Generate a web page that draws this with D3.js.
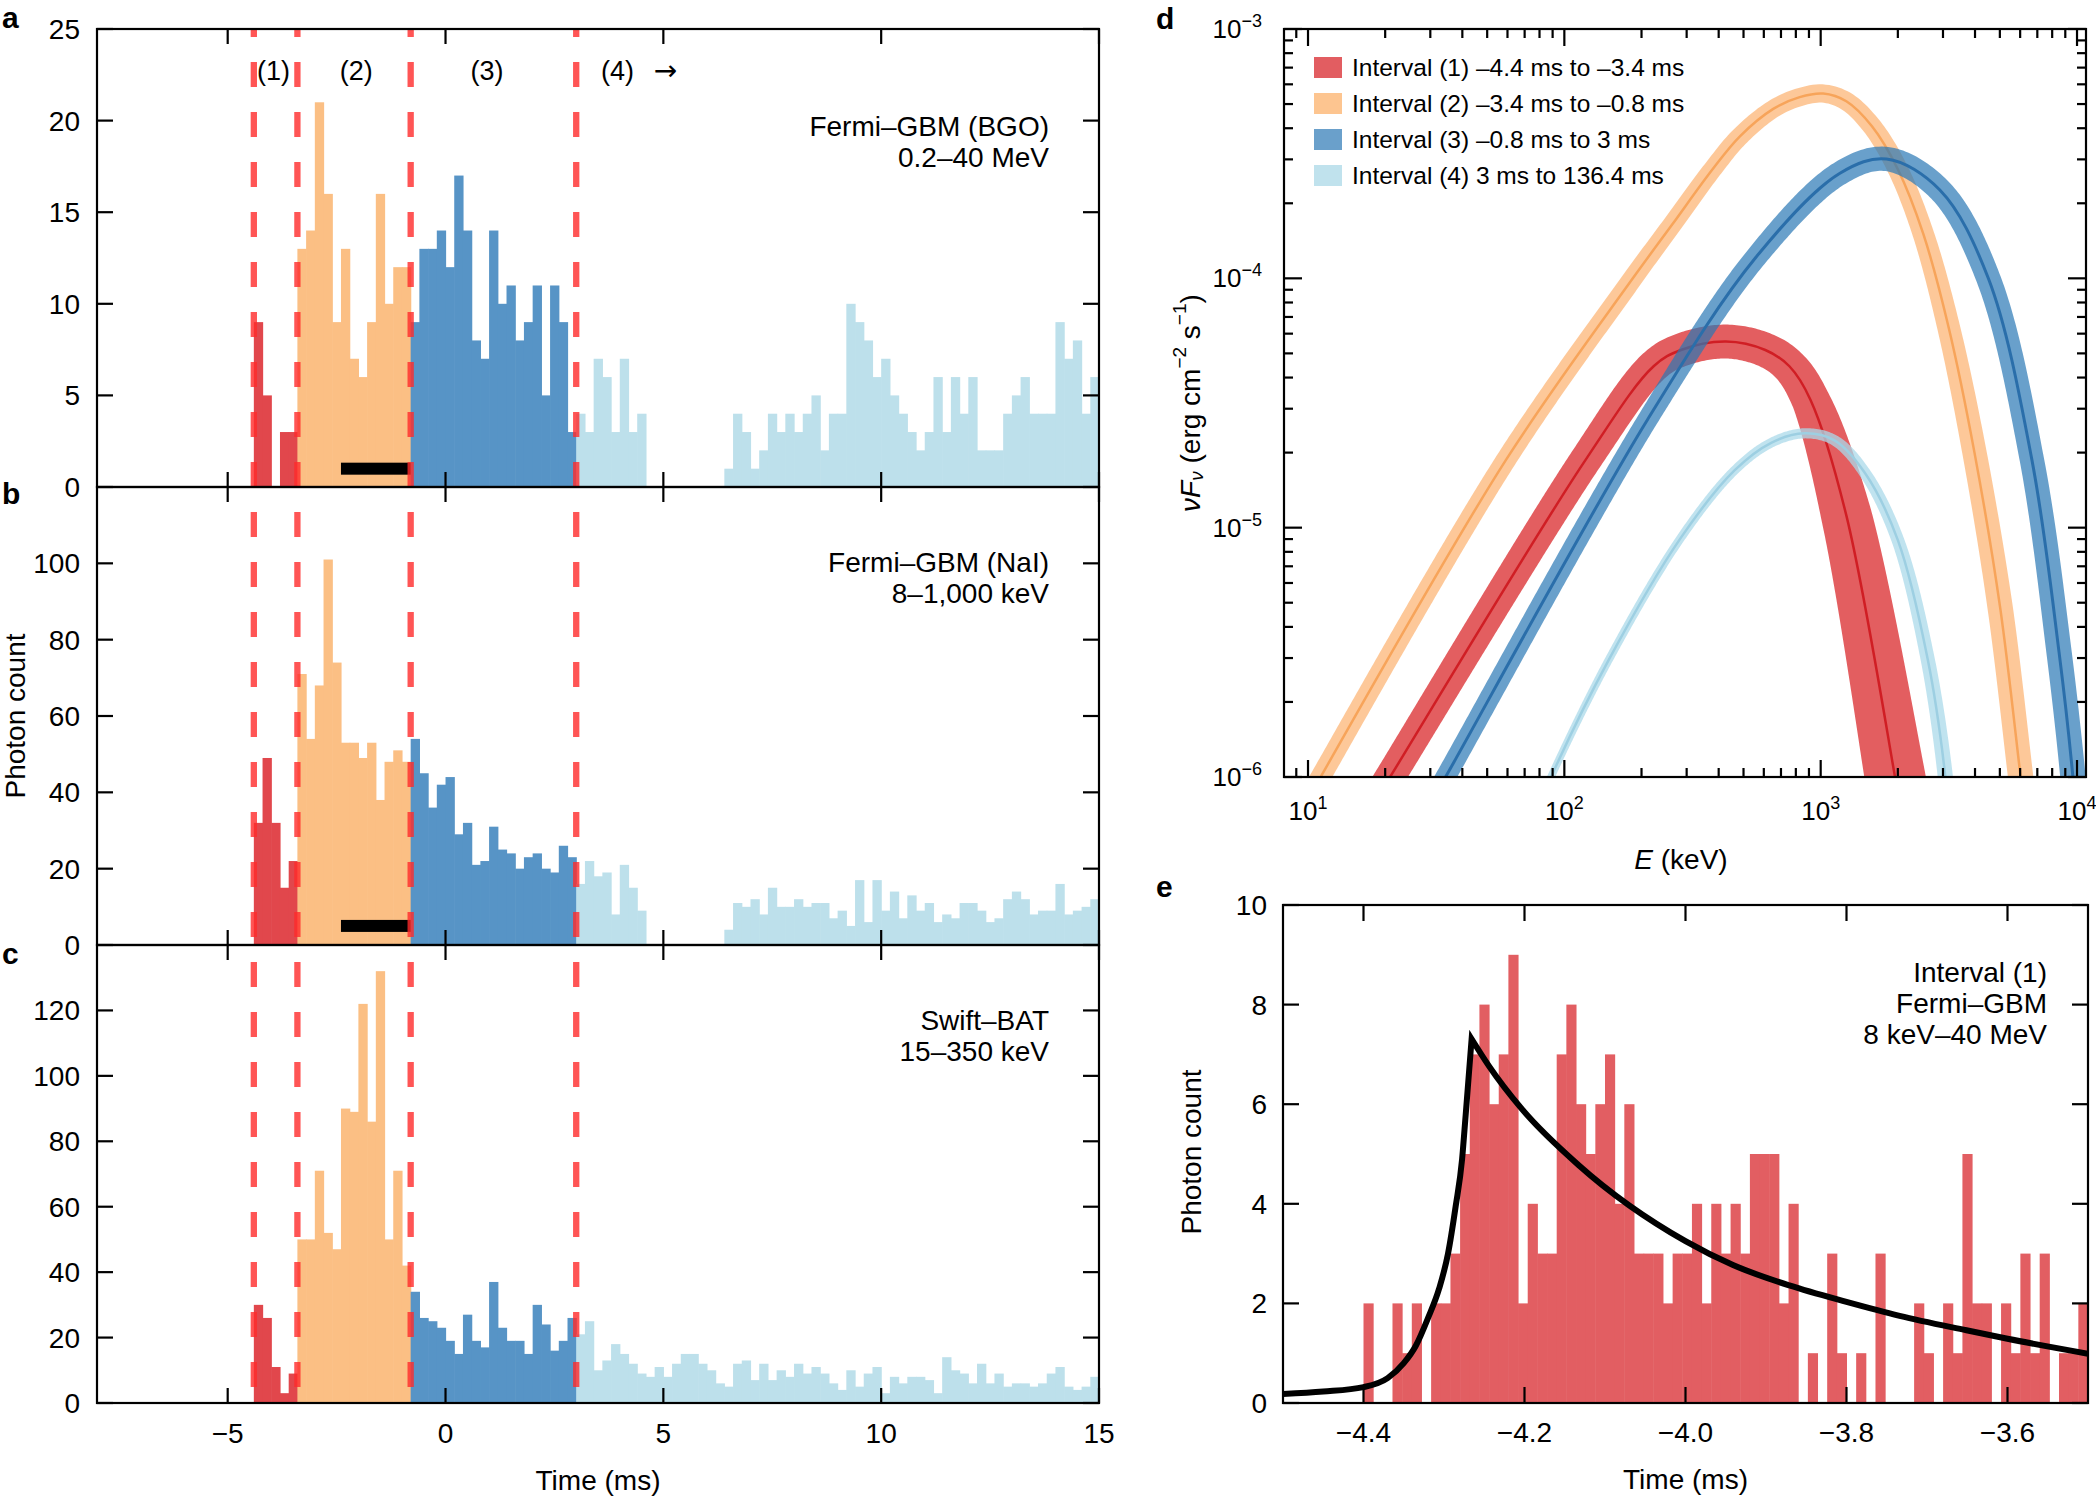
<!DOCTYPE html>
<html><head><meta charset="utf-8">
<script src="https://cdn.jsdelivr.net/npm/d3@7"></script>
<style>
body{margin:0;background:#fff}
svg{display:block}
text{font-family:"Liberation Sans",Arial,Helvetica,sans-serif;fill:#000}
</style>
</head><body>
<svg id="chart" width="2096" height="1496"></svg>
<script>
// ================= DATA =================
// Panels a-c: photon counts in 0.2 ms bins, split by interval
const intervalEdges = [-4.4, -3.4, -0.8, 3.0, 15.0];
const histBinMs = 0.2;
const bgoInt1 = [9,5,0,3,3];
const bgoInt2 = [13,14,21,16,9,13,7,6,9,16,10,12,12];
const bgoInt3 = [9,13,13,14,12,17,14,8,7,14,10,11,8,9,11,5,11,9,3];
const bgoInt4 = [4,3,7,6,3,7,3,4,0,0,0,0,0,0,0,0,0,1,4,3,1,2,4,3,4,3,4,5,2,4,4,10,9,8,6,7,5,4,3,2,3,6,3,6,4,6,2,2,2,4,5,6,4,4,4,9,7,8,4,6];
const naiInt1 = [32,49,32,15,22];
const naiInt2 = [71,54,68,101,74,53,53,49,53,38,48,51,48];
const naiInt3 = [54,45,36,42,44,29,32,21,22,31,25,24,20,23,24,20,19,26,23];
const naiInt4 = [16,22,18,19,8,21,15,9,0,0,0,0,0,0,0,0,0,4,11,10,12,8,15,10,10,12,10,11,11,7,9,5,17,6,17,9,14,7,13,9,11,6,8,7,11,11,9,6,7,12,14,12,8,9,9,16,8,9,10,12];
const batInt1 = [30,26,11,3,9];
const batInt2 = [50,50,71,52,47,90,89,122,86,132,50,71,42];
const batInt3 = [34,26,25,23,19,15,27,19,17,37,23,19,19,15,30,24,16,19,26];
const batInt4 = [21,25,10,13,18,15,12,9,8,11,8,12,15,15,12,10,6,5,12,13,7,12,7,10,8,12,9,11,9,6,4,10,5,9,11,3,8,6,8,8,7,3,14,10,9,6,12,6,9,5,6,6,5,6,9,11,5,4,5,8];
const exposureBar = [-2.4, -0.8];
const exposureBarLevel = [1, 5];
const bgoTicks = [0,5,10,15,20,25];
const naiTicks = [0,20,40,60,80,100];
const batTicks = [0,20,40,60,80,100,120];
const timeTicks = [-5,0,5,10,15];
const intervalNames = ['(1)','(2)','(3)','(4)'];
const intervalNameX = [-3.95,-2.05,0.95,3.95];
const arrowX = 5.05;
const detectorText = [['Fermi–GBM (BGO)','0.2–40 MeV'],['Fermi–GBM (NaI)','8–1,000 keV'],['Swift–BAT','15–350 keV']];

// Panel d: nuFnu spectra (E in keV, F in erg cm^-2 s^-1), band half-width in dex
const spec1E = [18.2,20.9,121,223,285,427,608,755,912,1259,1950,2042];
const spec1F = [7.94e-7,1.0e-6,1.87e-5,4.44e-5,5.16e-5,5.58e-5,5.16e-5,4.44e-5,3.26e-5,1.12e-5,1.0e-6,7.59e-7];
const spec1Err = [0.06,0.06,0.063,0.065,0.066,0.067,0.068,0.07,0.075,0.10,0.12,0.12];
const spec2E = [10.0,11.2,59.2,185,263,380,484,653,828,1023,1259,1585,1995,2512,3162,3981,5012,6026,6310];
const spec2F = [8.13e-7,1.0e-6,1.87e-5,1.0e-4,1.64e-4,2.75e-4,3.71e-4,4.78e-4,5.33e-4,5.51e-4,5.13e-4,4.07e-4,2.75e-4,1.51e-4,6.31e-5,2.0e-5,4.79e-6,1.0e-6,6.76e-7];
const spec2Err = [0.04,0.04,0.04,0.039,0.038,0.037,0.037,0.036,0.036,0.036,0.037,0.038,0.04,0.042,0.045,0.048,0.05,0.05,0.05];
const spec3E = [30.2,34.4,211,561,1189,1807,2917,4508,6668,8511,9638,9886];
const spec3F = [7.94e-7,1.0e-6,2.71e-5,1.22e-4,2.64e-4,3.01e-4,2.26e-4,1.0e-4,1.87e-5,3.16e-6,1.0e-6,7.08e-7];
const spec3Err = [0.04,0.04,0.04,0.043,0.047,0.048,0.048,0.048,0.048,0.05,0.05,0.05];
const spec4E = [79.4,88.7,149,285,462,641,863,1132,1486,2000,2618,3048,3126];
const spec4F = [7.59e-7,1.0e-6,2.95e-6,9.12e-6,1.70e-5,2.19e-5,2.39e-5,2.24e-5,1.66e-5,8.91e-6,2.95e-6,1.05e-6,7.59e-7];
const spec4Err = [0.015,0.015,0.016,0.017,0.018,0.019,0.02,0.021,0.023,0.025,0.028,0.03,0.03];
const legendLabels = ['Interval (1) –4.4 ms to –3.4 ms','Interval (2) –3.4 ms to –0.8 ms','Interval (3) –0.8 ms to 3 ms','Interval (4) 3 ms to 136.4 ms'];
const energyMajor = [10,100,1000,10000];
const energyExp = ['1','2','3','4'];
const fluxMajor = [1e-6,1e-5,1e-4,1e-3];
const fluxExp = ['−6','−5','−4','−3'];

// Panel e: interval (1) light curve, 0.012 ms bins
const eBinStart = -4.4, eBinMs = 0.012;
const eCounts = [2,0,0,2,1,2,0,2,2,3, 5,7,8,6,7,9,2,4,3,3, 7,8,6,5,6,7,4,6,3,3, 3,2,3,3,4,2,4,3,4,3, 5,5,5,2,4,0,1,0,3,1, 0,1,0,3,0,0,0,2,1,0, 2,1,5,2,2,0,2,1,3,1, 3,0,1,1,2];
const riseT = [-4.5,-4.45,-4.4,-4.37,-4.35,-4.335,-4.32,-4.306,-4.295,-4.2855,-4.2775,-4.2732,-4.2657];
const riseC = [0.18,0.23,0.32,0.5,0.8,1.15,1.7,2.3,3.0,3.95,4.9,5.76,7.31];
const decayT = [-4.2657,-4.2443,-4.2031,-4.133,-4.0,-3.941,-3.871,-3.8,-3.734,-3.651,-3.6,-3.5];
const decayC = [7.31,6.77,5.90,4.78,3.25,2.77,2.36,2.03,1.75,1.46,1.29,0.99];
const eTimeTicks = [-4.4,-4.2,-4.0,-3.8,-3.6];
const eTimeLabels = ['−4.4','−4.2','−4.0','−3.8','−3.6'];
const eCountTicks = [0,2,4,6,8,10];
const eText = ['Interval (1)','Fermi–GBM','8 keV–40 MeV'];

// ================= DRAWING =================
const svg = d3.select('#chart');
const svgNode = svg.node();
const svgns = 'http://www.w3.org/2000/svg';
const barColors = ['#E1474C','#FBBF84','#5794C6','#BDE0EB'];
const defs = svg.append('defs');

function frame(x0,y0,x1,y1){
  svg.append('rect').attr('x',x0).attr('y',y0).attr('width',x1-x0).attr('height',y1-y0)
    .attr('fill','none').attr('stroke','#000').attr('stroke-width',2.2);
}
function tickLine(x1,y1,x2,y2){
  svg.append('line').attr('x1',x1).attr('y1',y1).attr('x2',x2).attr('y2',y2)
    .attr('stroke','#000').attr('stroke-width',2.2);
}
function panelLetter(t,x,y){
  svg.append('text').attr('x',x).attr('y',y).attr('font-size',30).attr('font-weight','bold').text(t);
}

// ---------- panels a, b, c ----------
const LX0 = 97, LX1 = 1099, LH = 458, LTops = [29,487,945];
const xT = d3.scaleLinear().domain([-8,15]).range([LX0,LX1]);
const leftPanels = [
  {ints:[bgoInt1,bgoInt2,bgoInt3,bgoInt4], ymax:25, ticks:bgoTicks, textBase:[107,138]},
  {ints:[naiInt1,naiInt2,naiInt3,naiInt4], ymax:120, ticks:naiTicks, textBase:[85,116]},
  {ints:[batInt1,batInt2,batInt3,batInt4], ymax:140, ticks:batTicks, textBase:[85,116]}
];
leftPanels.forEach((p,pi)=>{
  const y0 = LTops[pi], y1 = y0+LH;
  const ys = d3.scaleLinear().domain([0,p.ymax]).range([y1,y0]);
  p.ys = ys;
  const bins = [];
  p.ints.forEach((arr,i)=>arr.forEach((v,j)=>{
    const t0 = intervalEdges[i] + j*histBinMs;
    bins.push({t0, t1:t0+histBinMs, v, c:i});
  }));
  svg.append('g').selectAll('rect').data(bins.filter(b=>b.v>0)).join('rect')
    .attr('x',d=>xT(d.t0)).attr('width',d=>xT(d.t1)-xT(d.t0)+0.6)
    .attr('y',d=>ys(d.v)).attr('height',d=>ys(0)-ys(d.v))
    .attr('fill',d=>barColors[d.c]);
  if (pi<2){
    svg.append('rect').attr('x',xT(exposureBar[0])).attr('width',xT(exposureBar[1])-xT(exposureBar[0]))
      .attr('y',ys(exposureBarLevel[pi])-6).attr('height',12).attr('fill','#000');
  }
  const tx = svg.append('text').attr('text-anchor','end').attr('font-size',28);
  tx.append('tspan').attr('x',1049).attr('y',y0+p.textBase[0]).text(detectorText[pi][0]);
  tx.append('tspan').attr('x',1049).attr('y',y0+p.textBase[1]).text(detectorText[pi][1]);
});

// dashed interval boundaries
svg.append('g').selectAll('line').data(intervalEdges.slice(0,4)).join('line')
  .attr('x1',d=>xT(d)).attr('x2',d=>xT(d)).attr('y1',LTops[0]).attr('y2',LTops[2]+LH)
  .attr('stroke','#ff2b2b').attr('stroke-opacity',0.8).attr('stroke-width',6.3)
  .attr('stroke-dasharray','25,25').attr('stroke-dashoffset',17);

leftPanels.forEach((p,pi)=>{
  const y0 = LTops[pi], y1 = y0+LH, ys = p.ys;
  frame(LX0,y0,LX1,y1);
  p.ticks.forEach(v=>{
    tickLine(LX0,ys(v),LX0+16,ys(v));
    tickLine(LX1-16,ys(v),LX1,ys(v));
    svg.append('text').attr('x',80).attr('y',ys(v)+10).attr('text-anchor','end').attr('font-size',28).text(v);
  });
  timeTicks.forEach(t=>{
    tickLine(xT(t),y0,xT(t),y0+15);
    tickLine(xT(t),y1-15,xT(t),y1);
  });
});
timeTicks.forEach(t=>{
  svg.append('text').attr('x',xT(t)).attr('y',1443).attr('text-anchor','middle').attr('font-size',28)
    .text(t<0 ? '−'+Math.abs(t) : t);
});
svg.append('text').attr('x',(LX0+LX1)/2).attr('y',1490).attr('text-anchor','middle').attr('font-size',28).text('Time (ms)');
svg.append('text').attr('transform','translate(15,716) rotate(-90)').attr('text-anchor','middle')
  .attr('dominant-baseline','central').attr('font-size',28).text('Photon count');
intervalNames.forEach((n,i)=>{
  svg.append('text').attr('x',xT(intervalNameX[i])).attr('y',80).attr('text-anchor','middle').attr('font-size',27).text(n);
});
svg.append('text').attr('x',xT(arrowX)).attr('y',80).attr('text-anchor','middle').attr('font-size',28)
  .style('font-family','"DejaVu Sans",sans-serif').text('→');
panelLetter('a',2,28); panelLetter('b',2,504); panelLetter('c',2,964);

// ---------- panel d ----------
const DX0=1284, DX1=2086, DY0=29, DY1=777;
const xE = d3.scaleLog().domain([8.06,10840]).range([DX0,DX1]);
const yF = d3.scaleLog().domain([1e-6,1e-3]).range([DY1,DY0]);
defs.append('clipPath').attr('id','clipD').append('rect').attr('x',DX0).attr('y',DY0).attr('width',DX1-DX0).attr('height',DY1-DY0);
const gD = svg.append('g').attr('clip-path','url(#clipD)');
const dexPx = 253;
const specs = [
  {E:spec2E,F:spec2F,err:spec2Err,band:'#FB9A45',bandOp:0.55,line:'#F7A45A',lw:2.5},
  {E:spec1E,F:spec1F,err:spec1Err,band:'#D7191C',bandOp:0.7,line:'#D01E24',lw:2.5},
  {E:spec3E,F:spec3F,err:spec3Err,band:'#2A77B5',bandOp:0.7,line:'#2A6EAA',lw:3},
  {E:spec4E,F:spec4F,err:spec4Err,band:'#ABD9E9',bandOp:0.75,line:'#9DCFE2',lw:2.5}
];
const centerLine = d3.line().curve(d3.curveCatmullRom.alpha(0.5));
specs.forEach(s=>{
  const pts = s.E.map((e,i)=>[xE(e), yF(s.F[i])]);
  const d = centerLine(pts);
  const tmp = document.createElementNS(svgns,'path'); tmp.setAttribute('d',d); svgNode.appendChild(tmp);
  const len = tmp.getTotalLength(), N = 600;
  const samp = d3.range(N+1).map(i=>{const q=tmp.getPointAtLength(len*i/N); return [q.x,q.y];});
  tmp.remove();
  const errAt = d3.scaleLinear().domain(pts.map(p=>p[0])).range(s.err).clamp(true);
  const up=[], lo=[];
  samp.forEach((p,i)=>{
    const a = samp[Math.max(0,i-2)], b = samp[Math.min(N,i+2)];
    const dx=b[0]-a[0], dy=b[1]-a[1], n=Math.hypot(dx,dy)||1;
    const nx=-dy/n, ny=dx/n, hw=errAt(p[0])*dexPx;
    up.push([p[0]+nx*hw,p[1]+ny*hw]); lo.push([p[0]-nx*hw,p[1]-ny*hw]);
  });
  gD.append('path').attr('d',d3.line()(up.concat(lo.reverse()))+'Z')
    .attr('fill',s.band).attr('fill-opacity',s.bandOp).attr('stroke','none');
  gD.append('path').attr('d',d).attr('fill','none').attr('stroke',s.line).attr('stroke-width',s.lw);
});
frame(DX0,DY0,DX1,DY1);
energyMajor.forEach((e,i)=>{
  tickLine(xE(e),DY1,xE(e),DY1-17); tickLine(xE(e),DY0,xE(e),DY0+17);
  const t = svg.append('text').attr('x',xE(e)).attr('y',820).attr('text-anchor','middle').attr('font-size',26);
  t.append('tspan').text('10'); t.append('tspan').attr('dy',-11).attr('font-size',18).text(energyExp[i]);
});
[1,10,100,1000].forEach(dec=>d3.range(2,10).forEach(m=>{
  const e=dec*m; if(e<8.06||e>10840) return;
  tickLine(xE(e),DY1,xE(e),DY1-9); tickLine(xE(e),DY0,xE(e),DY0+9);
}));
fluxMajor.forEach((f,i)=>{
  tickLine(DX0,yF(f),DX0+18,yF(f)); tickLine(DX1-18,yF(f),DX1,yF(f));
  const t = svg.append('text').attr('x',1262).attr('y',yF(f)+9).attr('text-anchor','end').attr('font-size',26);
  t.append('tspan').text('10'); t.append('tspan').attr('dy',-11).attr('font-size',18).text(fluxExp[i]);
});
[1e-6,1e-5,1e-4].forEach(dec=>d3.range(2,10).forEach(m=>{
  const f=dec*m;
  tickLine(DX0,yF(f),DX0+9,yF(f)); tickLine(DX1-9,yF(f),DX1,yF(f));
}));
const legendColors = ['#E25D61','#FDC590','#6AA0CB','#C0E2ED'];
legendLabels.forEach((l,i)=>{
  const cy = 67 + i*36;
  svg.append('rect').attr('x',1314).attr('y',cy-10).attr('width',28).attr('height',21).attr('fill',legendColors[i]);
  svg.append('text').attr('x',1352).attr('y',cy+9).attr('font-size',24.5).text(l);
});
{
  const t = svg.append('text').attr('x',1681).attr('y',869).attr('text-anchor','middle').attr('font-size',28);
  t.append('tspan').attr('font-style','italic').text('E');
  t.append('tspan').text(' (keV)');
  const yl = svg.append('text').attr('transform','translate(1190,403) rotate(-90)').attr('text-anchor','middle')
    .attr('dominant-baseline','central').attr('font-size',28);
  yl.append('tspan').attr('font-style','italic').text('νF');
  yl.append('tspan').attr('font-style','italic').attr('font-size',19).attr('dy',6).text('ν');
  yl.append('tspan').attr('dy',-6).text(' (erg cm');
  yl.append('tspan').attr('font-size',19).attr('dy',-11).text('−2');
  yl.append('tspan').attr('dy',11).text(' s');
  yl.append('tspan').attr('font-size',19).attr('dy',-11).text('−1');
  yl.append('tspan').attr('dy',11).text(')');
}
panelLetter('d',1156,29);

// ---------- panel e ----------
const EX0=1283, EX1=2088, EY0=905, EY1=1403;
const xe = d3.scaleLinear().domain([-4.5,-3.5]).range([EX0,EX1]);
const ye = d3.scaleLinear().domain([0,10]).range([EY1,EY0]);
defs.append('clipPath').attr('id','clipE').append('rect').attr('x',EX0).attr('y',EY0).attr('width',EX1-EX0).attr('height',EY1-EY0);
const gE = svg.append('g').attr('clip-path','url(#clipE)');
gE.selectAll('rect').data(eCounts.map((v,k)=>({t0:eBinStart+k*eBinMs, t1:eBinStart+(k+1)*eBinMs, v})).filter(d=>d.v>0))
  .join('rect').attr('x',d=>xe(d.t0)).attr('width',d=>xe(d.t1)-xe(d.t0)+0.5)
  .attr('y',d=>ye(d.v)).attr('height',d=>ye(0)-ye(d.v)).attr('fill','#E25E62');
const modelLine = d3.line().x(d=>xe(d[0])).y(d=>ye(d[1])).curve(d3.curveMonotoneX);
const riseD = modelLine(riseT.map((t,i)=>[t,riseC[i]]));
const decayD = modelLine(decayT.map((t,i)=>[t,decayC[i]]));
gE.append('path').attr('d', riseD + decayD.replace(/^M/,'L')).attr('fill','none')
  .attr('stroke','#000').attr('stroke-width',6).attr('stroke-linejoin','miter').attr('stroke-miterlimit',10);
frame(EX0,EY0,EX1,EY1);
eTimeTicks.forEach((t,i)=>{
  tickLine(xe(t),EY1,xe(t),EY1-16); tickLine(xe(t),EY0,xe(t),EY0+16);
  svg.append('text').attr('x',xe(t)).attr('y',1442).attr('text-anchor','middle').attr('font-size',28).text(eTimeLabels[i]);
});
eCountTicks.forEach(v=>{
  tickLine(EX0,ye(v),EX0+16,ye(v)); tickLine(EX1-16,ye(v),EX1,ye(v));
  svg.append('text').attr('x',1267).attr('y',ye(v)+10).attr('text-anchor','end').attr('font-size',28).text(v);
});
svg.append('text').attr('x',(EX0+EX1)/2).attr('y',1489).attr('text-anchor','middle').attr('font-size',28).text('Time (ms)');
svg.append('text').attr('transform','translate(1191,1152) rotate(-90)').attr('text-anchor','middle')
  .attr('dominant-baseline','central').attr('font-size',28).text('Photon count');
{
  const t = svg.append('text').attr('text-anchor','end').attr('font-size',28);
  eText.forEach((s,i)=>t.append('tspan').attr('x',2047).attr('y',982+i*31).text(s));
}
panelLetter('e',1156,897);
</script>
</body></html>
